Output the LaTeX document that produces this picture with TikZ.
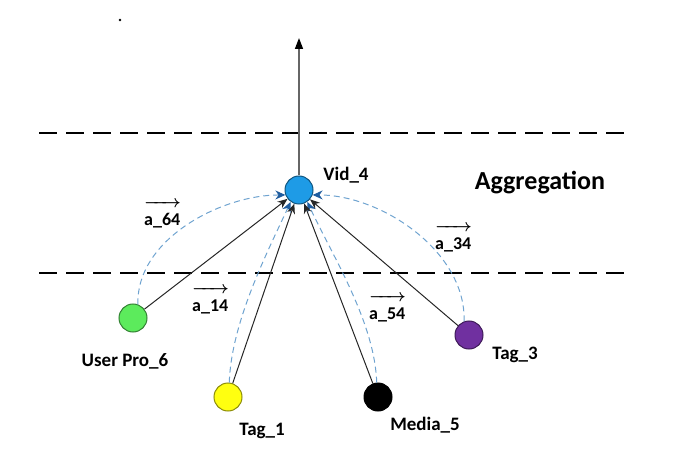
\documentclass[tikz,border=0pt]{standalone}
\usepackage{fontspec}
\setmainfont{Carlito}
\usepackage{amsmath}
\usetikzlibrary{arrows.meta,positioning}
\definecolor{vidblue}{HTML}{1E9BE6}
\definecolor{userg}{HTML}{5CEB5C}
\definecolor{tagy}{HTML}{FFFF10}
\definecolor{tagp}{HTML}{7030A0}
\definecolor{flowblue}{HTML}{6FA3D0}
\definecolor{tipblue}{HTML}{1F5C9E}

\begin{document}
\begin{tikzpicture}[x=1pt,y=1pt,
  ent/.style={circle,draw=#1!55!black,fill=#1,line width=1pt,minimum size=28pt,inner sep=0pt},
  lbl/.style={font=\fontsize{19}{21}\selectfont\bfseries},
  alab/.style={font=\fontsize{18}{18}\selectfont\bfseries,align=left,anchor=west,inner sep=0pt},
  arrow/.style={-{Stealth[length=10pt,width=8pt]},line width=1pt,draw=black!85},
  flow/.style={-{Stealth[length=10pt,width=9pt,color=tipblue]},dash pattern=on 6pt off 4pt,line width=1pt,draw=flowblue},
  level/.style={line width=1.8pt,dash pattern=on 18pt off 9pt}]
\useasboundingbox (0,0) rectangle (691,-457);
\fill (120,-20) circle (1.4pt);
% layer boundaries
\coordinate (l1) at (39,-133);
\coordinate (r1) at (631,-133);
\coordinate (l2) at (39,-273);
\coordinate (r2) at (631,-273);
\draw[level] (l1) -- (r1);
\draw[level] (l2) -- (r2);
% entities
\node[ent=vidblue] (v4) at (299,-190) {};
\node[ent=userg] (u6) at (133,-318) {};
\node[ent=tagy] (t1) at (228,-397) {};
\node[ent=black] (m5) at (378,-397) {};
\node[ent=tagp] (t3) at (469,-335) {};
\node[lbl] (v4l) at (346,-175) {Vid\_4};
\node[lbl] (u6l) at (125,-361) {User Pro\_6};
\node[lbl] (t1l) at (262,-431) {Tag\_1};
\node[lbl] (m5l) at (425,-425) {Media\_5};
\node[lbl] (t3l) at (515,-355) {Tag\_3};
\node[font=\fontsize{26}{28}\selectfont\bfseries] (agg) at (540,-183) {Aggregation};
% output
\coordinate (out) at (299,-38);
\draw[-{Triangle[length=11pt,width=8pt,color=black]},line width=1.5pt,draw=black!60] (v4) -- (out);
% attention
\draw[flow] (u6.70) to[out=92,in=180,looseness=0.9] (v4.200);
\draw[flow] (t1.85) to[out=88,in=245,looseness=0.8] (v4.235);
\draw[flow] (m5.95) to[out=92,in=295,looseness=0.8] (v4.305);
\draw[flow] (t3.110) to[out=88,in=0,looseness=0.9] (v4.340);
\draw[arrow] (u6) -- (v4);
\draw[arrow] (t1) -- (v4);
\draw[arrow] (m5) -- (v4);
\draw[arrow] (t3) -- (v4);
% weights
\node[alab] (a64) at (144,-212) {$\boldsymbol{\xrightarrow{\hspace{26pt}}}$\\a\_64};
\node[alab] (a14) at (192,-298) {$\boldsymbol{\xrightarrow{\hspace{26pt}}}$\\a\_14};
\node[alab] (a34) at (435,-236) {$\boldsymbol{\xrightarrow{\hspace{26pt}}}$\\a\_34};
\node[alab] (a54) at (369,-306) {$\boldsymbol{\xrightarrow{\hspace{26pt}}}$\\a\_54};
\end{tikzpicture}
\end{document}
